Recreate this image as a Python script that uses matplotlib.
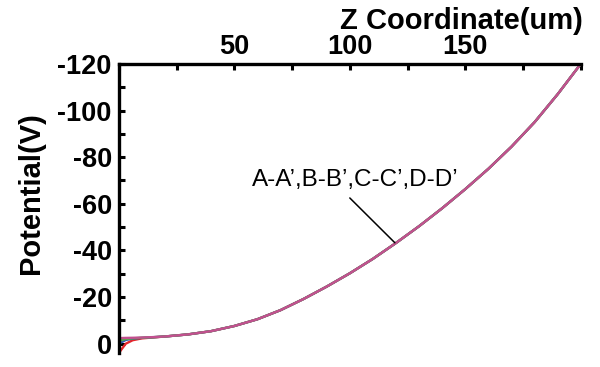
import matplotlib
matplotlib.use('Agg')
import matplotlib.pyplot as plt
from matplotlib.ticker import MultipleLocator, FixedLocator, FuncFormatter

plt.rcParams['font.family'] = ['Liberation Sans', 'DejaVu Sans']

# z coordinate (um) and potential (V)
z_head = [0, 3, 6, 10, 15]
z_tail = [20, 30, 40, 50, 60, 70, 80, 90, 100, 110, 120, 130, 140,
          150, 160, 170, 180, 190, 200]
v_tail = [-3.1, -4.0, -5.4, -7.6, -10.5, -14.4, -19.2, -24.5, -30.2,
          -36.4, -43.2, -50.4, -58.1, -66.3, -75.0, -84.5, -95.0, -107.0,
          -120.0]

# the four cuts only differ right at the start
head_a = [4.0, 0.0, -1.5, -2.3, -2.7]
head_b = [0.0, -1.6, -2.2, -2.5, -2.8]
head_c = [-1.2, -2.0, -2.3, -2.55, -2.8]
head_d = [-2.4, -2.5, -2.55, -2.65, -2.85]

series = [
    ("A-A'", head_a, '#e3262b'),
    ("B-B'", head_b, '#2f55b4'),
    ("C-C'", head_c, '#55a848'),
    ("D-D'", head_d, '#c2508f'),
]

label_text = 'A-A\u2019,B-B\u2019,C-C\u2019,D-D\u2019'
label_pos = (57.5, -67.5)
pointer_from = (100.0, -62.5)
pointer_to = (119.5, -43.3)

fig = plt.figure(figsize=(6.0, 3.67), dpi=100)
ax = fig.add_axes([0.198, 0.038, 0.770, 0.788])

z = z_head + z_tail
for name, head, col in series:
    ax.plot(z, head + v_tail, color=col, lw=1.7, solid_capstyle='round')

ax.set_xlim(0, 200)
ax.set_ylim(4, -120)

# only left + top frame
ax.spines['right'].set_visible(False)
ax.spines['bottom'].set_visible(False)
for s in ('left', 'top'):
    ax.spines[s].set_linewidth(2.4)
    ax.spines[s].set_capstyle('projecting')

ax.xaxis.tick_top()
ax.xaxis.set_label_position('top')
ax.xaxis.set_major_locator(FixedLocator([0, 25, 50, 75, 100, 125, 150, 175, 200]))
ax.xaxis.set_major_formatter(FuncFormatter(
    lambda v, p: '%d' % v if v in (50, 100, 150) else ''))
ax.yaxis.set_major_locator(MultipleLocator(20))
ax.yaxis.set_minor_locator(MultipleLocator(10))
ax.yaxis.set_major_formatter(FuncFormatter(lambda v, p: '%d' % v))

ax.tick_params(axis='both', which='both', direction='in', length=4, width=2.2)
ax.tick_params(axis='x', labelsize=19.5, pad=3)
ax.tick_params(axis='y', labelsize=19.5, pad=5)
for t in ax.get_xticklabels() + ax.get_yticklabels():
    t.set_fontweight('bold')

ax.set_xlabel('Z Coordinate(um)', fontsize=21, fontweight='bold', ha='right', va='center')
ax.xaxis.set_label_coords(1.005, 1.149)
ax.set_ylabel('Potential(V)', fontsize=21, fontweight='bold', va='center')
ax.yaxis.set_label_coords(-0.19, 0.554)

ax.text(label_pos[0], label_pos[1], label_text, fontsize=17.5, ha='left', va='baseline')
ax.annotate('', xy=pointer_to, xytext=pointer_from,
            arrowprops=dict(arrowstyle='-', color='black', lw=1.1, shrinkA=0, shrinkB=0))

fig.savefig('out.png', dpi=100)
